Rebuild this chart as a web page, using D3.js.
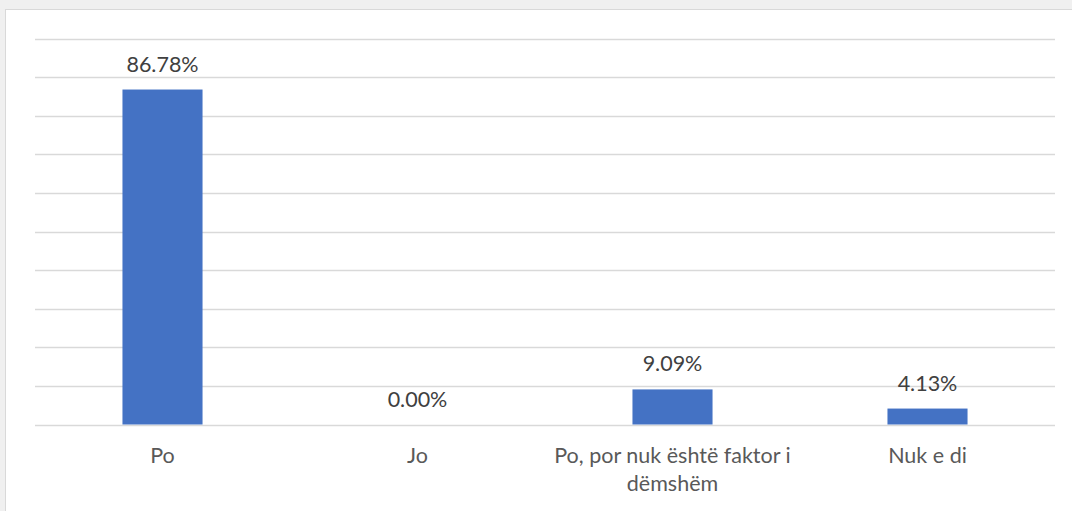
<!DOCTYPE html>
<html><head><meta charset="utf-8">
<script src="https://cdn.jsdelivr.net/npm/d3@7"></script>
<style>body{margin:0;background:#f0f0f0;}svg{display:block;font-family:Lato,"Open Sans",sans-serif;}</style>
</head><body>
<svg id="c" width="1072" height="511"></svg>
<script>
const categories = ["Po", "Jo", "Po, por nuk është faktor i dëmshëm", "Nuk e di"];
const labelLines = [["Po"], ["Jo"], ["Po, por nuk është faktor i", "dëmshëm"], ["Nuk e di"]];
const values = [86.78, 0.00, 9.09, 4.13];
const yTicks = [0,10,20,30,40,50,60,70,80,90,100];

const svg = d3.select("#c");
svg.append("rect").attr("x",5.5).attr("y",9.5).attr("width",1080).attr("height",520)
  .attr("fill","#fff").attr("stroke","#d9d9d9");

const mLeft=35, mRight=1055, mTop=38.5, mBottom=424.5;
const x = d3.scaleBand().domain(categories).range([mLeft,mRight]).paddingInner(0.686).paddingOuter(0.343);
const y = d3.scaleLinear().domain([0,100]).range([mBottom,mTop]);

svg.append("g").selectAll("line").data(yTicks).join("line")
  .attr("x1",mLeft).attr("x2",mRight)
  .attr("y1",d=>Math.round(y(d))+0.5).attr("y2",d=>Math.round(y(d))+0.5)
  .attr("stroke","#d9d9d9").attr("stroke-width",1.5);

svg.append("g").selectAll("rect").data(values).join("rect")
  .attr("x",(d,i)=>x(categories[i])).attr("width",x.bandwidth())
  .attr("y",d=>y(d)).attr("height",d=>mBottom-y(d))
  .attr("fill","#4472c4");

svg.append("g").selectAll("text").data(values).join("text")
  .attr("x",(d,i)=>x(categories[i])+x.bandwidth()/2)
  .attr("y",d=>y(d)-18)
  .attr("text-anchor","middle").attr("font-size",21.5).attr("fill","#404040")
  .text(d=>d.toFixed(2)+"%");

const g = svg.append("g");
labelLines.forEach((lines,i)=>{
  const t = g.append("text").attr("text-anchor","middle").attr("font-size",21.5).attr("fill","#595959")
    .attr("x",x(categories[i])+x.bandwidth()/2).attr("y",463);
  lines.forEach((l,j)=>t.append("tspan").attr("x",x(categories[i])+x.bandwidth()/2).attr("dy",j?28:0).text(l));
});
</script>
</body></html>
